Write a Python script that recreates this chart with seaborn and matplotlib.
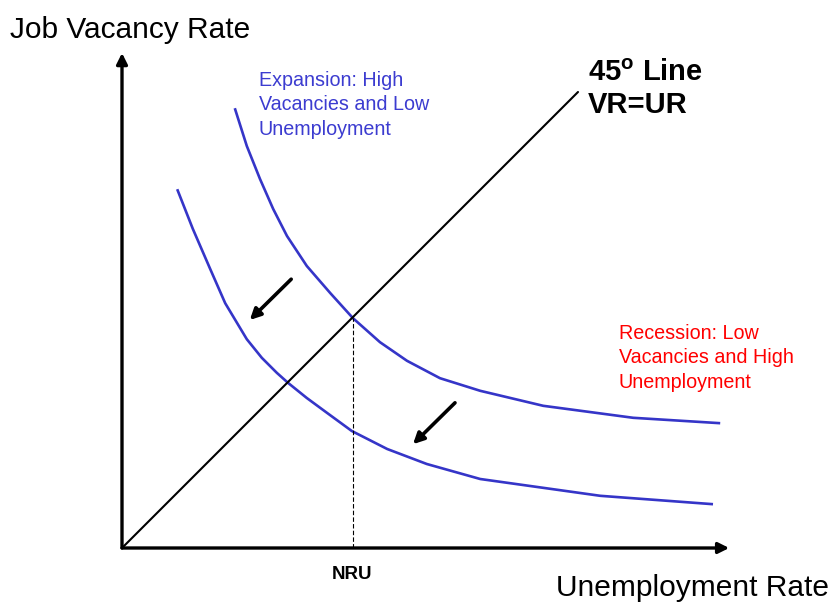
import numpy as np
import pandas as pd
import matplotlib
matplotlib.use("Agg")
import matplotlib.pyplot as plt
import seaborn as sns

# Beveridge curves (unemployment rate, vacancy rate)
upper_u = [1.88, 2.08, 2.30, 2.52, 2.75, 3.08, 3.47, 3.85, 4.30, 4.75, 5.30, 5.97, 7.02, 8.52, 9.97]
upper_v = [7.33, 6.70, 6.15, 5.65, 5.20, 4.70, 4.25, 3.83, 3.43, 3.12, 2.83, 2.62, 2.37, 2.17, 2.08]
lower_u = [0.92, 1.18, 1.47, 1.72, 2.08, 2.33, 2.58, 2.77, 3.08, 3.42, 3.83, 4.42, 5.08, 5.97, 7.97, 9.85]
lower_v = [5.98, 5.32, 4.65, 4.08, 3.48, 3.17, 2.92, 2.75, 2.50, 2.25, 1.95, 1.65, 1.40, 1.15, 0.87, 0.73]
line45_u = [0.0, 7.6]
line45_v = [0.0, 7.6]
nru = 3.85  # natural rate of unemployment
nru_v = [0.0, 3.83]

sns.set_style("white")
plt.rcParams["font.family"] = ["Liberation Sans", "DejaVu Sans"]
plt.rcParams["text.color"] = "black"
plt.rcParams["mathtext.fontset"] = "custom"
plt.rcParams["mathtext.rm"] = "Liberation Sans"
plt.rcParams["mathtext.bf"] = "Liberation Sans:bold"

fig = plt.figure(figsize=(8.33, 6.04), dpi=100)
ax = fig.add_axes([0, 0, 1, 1])
ax.set_xlim(-122 / 60, 711 / 60)
ax.set_ylim(-56 / 60, 548 / 60)
ax.axis("off")

blue = "#3535c8"
for u, v in [(upper_u, upper_v), (lower_u, lower_v)]:
    sns.lineplot(x=u, y=v, color=blue, lw=1.9, estimator=None, sort=False, ax=ax,
                 solid_joinstyle="round", solid_capstyle="butt")
sns.lineplot(x=line45_u, y=line45_v, color="black", lw=1.5, estimator=None, sort=False, ax=ax)
sns.lineplot(x=[nru, nru], y=nru_v, color="black", lw=0.8, estimator=None, sort=False,
             ax=ax, linestyle=(0, (4, 2)))

# axes with arrow heads
ax_kw = dict(arrowstyle="-|>", lw=2.4, color="black", shrinkA=0, shrinkB=0, mutation_scale=16)
ax.annotate("", xy=(10.12, 0), xytext=(0, 0), arrowprops=ax_kw)
ax.annotate("", xy=(0, 8.25), xytext=(0, 0), arrowprops=ax_kw)

# shift arrows
sh_kw = dict(arrowstyle="-|>", lw=2.6, color="black", shrinkA=0, shrinkB=0, mutation_scale=16)
ax.annotate("", xy=(2.13, 3.80), xytext=(2.82, 4.48), arrowprops=sh_kw)
ax.annotate("", xy=(4.85, 1.73), xytext=(5.55, 2.42), arrowprops=sh_kw)

tr = ax.transAxes
W, H = 833, 604
ax.text(10 / W, 1 - 38 / H, "Job Vacancy Rate", fontsize=21.5, transform=tr, va="baseline")
ax.text(829 / W, 1 - 596 / H, "Unemployment Rate", fontsize=21.5, transform=tr,
        va="baseline", ha="right")
ax.text(352 / W, 1 - 579 / H, "NRU", fontsize=13.5, fontweight="bold", transform=tr,
        va="baseline", ha="center")
ax.text(588 / W, 1 - 81 / H, "45$^{\\mathbf{o}}$ Line", fontsize=21, fontweight="bold",
        transform=tr, va="baseline")
ax.text(588 / W, 1 - 113 / H, "VR=UR", fontsize=21, fontweight="bold",
        transform=tr, va="baseline")
ax.text(259 / W, 1 - 135 / H, "Expansion: High\nVacancies and Low\nUnemployment",
        fontsize=14.2, color="#3c3cd0", transform=tr, va="baseline", linespacing=1.38)
ax.text(619 / W, 1 - 388 / H, "Recession: Low\nVacancies and High\nUnemployment",
        fontsize=14.2, color="#ff0000", transform=tr, va="baseline", linespacing=1.38)

plt.savefig("out.png", dpi=100)
